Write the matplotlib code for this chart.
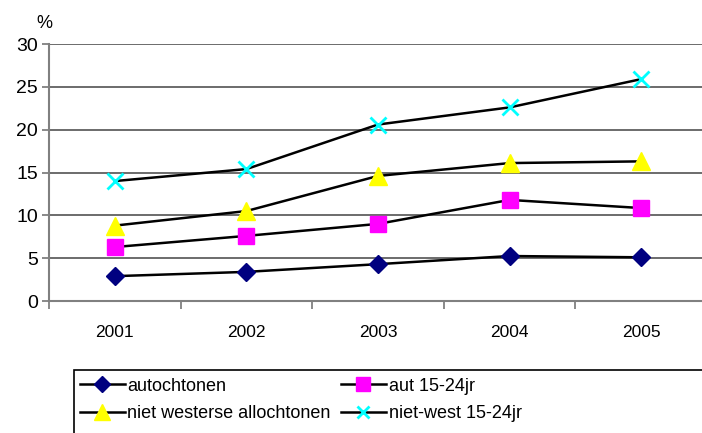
import matplotlib.pyplot as plt
from matplotlib.patches import Rectangle

plt.rcParams['font.family'] = ['Liberation Sans', 'DejaVu Sans']

years = ['2001', '2002', '2003', '2004', '2005']
autochtonen = [2.9, 3.4, 4.3, 5.25, 5.1]
aut_15_24 = [6.3, 7.6, 9.0, 11.8, 10.85]
niet_westers = [8.8, 10.5, 14.6, 16.1, 16.3]
niet_west_15_24 = [14.0, 15.4, 20.6, 22.6, 25.9]
yticks = [0, 5, 10, 15, 20, 25, 30]

W, H = 702, 433
fig = plt.figure(figsize=(W / 100, H / 100), dpi=100)
ax = fig.add_axes([49 / W, (H - 301) / H, 658 / W, 257 / H])

x = range(len(years))
l1, = ax.plot(x, autochtonen, color='black', lw=1.8, marker='D', ms=9,
              mfc='#000080', mec='#000080', label='autochtonen')
l2, = ax.plot(x, aut_15_24, color='black', lw=1.8, marker='s', ms=12,
              mfc='#FF00FF', mec='#FF00FF', label='aut 15-24jr')
l3, = ax.plot(x, niet_westers, color='black', lw=1.8, marker='^', ms=13,
              mfc='#FFFF00', mec='#FFFF00', label='niet westerse allochtonen')
l4, = ax.plot(x, niet_west_15_24, color='black', lw=1.8, marker='x', ms=11,
              mew=2, mec='#00FFFF', label='niet-west 15-24jr')

ax.set_xlim(-0.5, len(years) - 0.5)
ax.set_ylim(0, 30)
ax.set_yticks(yticks)
ax.set_yticklabels([str(v) for v in yticks], fontsize=14)
ax.set_xticks([i - 0.5 for i in range(len(years) + 1)])
ax.set_xticklabels([])
ax.set_xticks(list(x), minor=True)
ax.set_xticklabels(years, minor=True, fontsize=12.5)
ax.tick_params(axis='x', which='minor', length=0, pad=17)
ax.tick_params(axis='x', which='major', length=6, color='#808080', width=1.3)
ax.tick_params(axis='y', length=5, color='#808080', width=1.3, pad=3)

ax.yaxis.grid(True, color='#606060', lw=1.3)
ax.set_axisbelow(True)
for s in ['top', 'right']:
    ax.spines[s].set_visible(False)
for s in ['left', 'bottom']:
    ax.spines[s].set_color('#808080')
    ax.spines[s].set_linewidth(1.5)

fig.text(36 / W, 1 - 24 / H, '%', fontsize=13, va='center')

# legend box runs off the right and bottom edge like the original
fig.patches.append(Rectangle((74 / W, -0.05), 0.97, 1 - 370 / H + 0.05,
                             transform=fig.transFigure, fill=False,
                             edgecolor='black', lw=1.2))
fig.legend([l1, l3, l2, l4],
           [l1.get_label(), l3.get_label(), l2.get_label(), l4.get_label()],
           loc='upper left', ncol=2, bbox_to_anchor=(76 / W, 1 - 374 / H),
           fontsize=13, frameon=False, markerscale=0.85,
           handlelength=2.5, handletextpad=0.15, borderpad=0.2,
           labelspacing=0.6, columnspacing=0.55, borderaxespad=0)

fig.savefig('out.png', dpi=100)
